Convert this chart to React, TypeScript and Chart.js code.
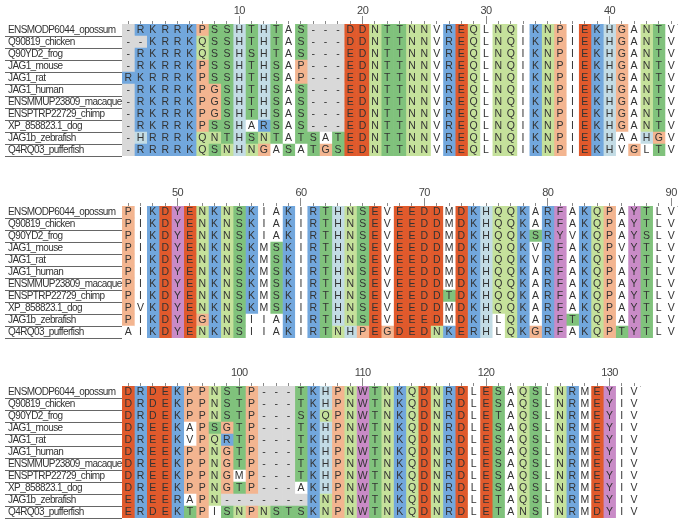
import React, { useEffect, useRef } from 'react';
import { Chart, registerables } from 'chart.js';

Chart.register(...registerables);

// ---------------- data ----------------
const SPECIES = [
  'ENSMODP6044_opossum',
  'Q90819_chicken',
  'Q90YD2_frog',
  'JAG1_mouse',
  'JAG1_rat',
  'JAG1_human',
  'ENSMMUP23809_macaque',
  'ENSPTRP22729_chimp',
  'XP_858823.1_dog',
  'JAG1b_zebrafish',
  'Q4RQ03_pufferfish',
];

// alignment columns 1-45
const SEGMENT_1 = [
  '-RKRRKPSSHTHTAS---DDNTTNNVREQLNQIKNPIEKHGANTV',
  '--KRRKQSSHTHTAS---DDNTTNNVREQLNQIKNPIEKHGANTV',
  '-RKRRKQSSHSHTAS---EDNTTNNVREQLNQIKNPIEKHGANTV',
  '-RKRRKPSSHTHSAP---EDNTTNNVREQLNQIKNPIEKHGANTV',
  'RKRRRKPSSHTHSAP---EDNTTNNVREQLNQIKNPIEKHGANTV',
  '-RKRRKPGSHTHSAS---EDNTTNNVREQLNQIKNPIEKHGANTV',
  '-RKRRKPGSHTHSAS---EDNTTNNVREQLNQIKNPIEKHGANTV',
  '-RKRRKPGSHTHSAS---EDNTTNNVREQLNQIKNPIEKHGANTV',
  '-RKRRKPSSHARSAS---EDNTTNNVREQLNQIKNPIEKHGANTV',
  '-HRRRKQNTHSNTATSATEDNTTNNVREQLNQIKNPIEKHAAHGV',
  '-RRRRKQSNHNGASATGSEDNTTNNVREQLNQIKNPIEKHVGLTV',
];

// alignment columns 46-90
const SEGMENT_2 = [
  'PIKDYENKNSKIAKIRTHNSEVEEDDMDKHQQKARFAKQPAYTLV',
  'PIKDYENKNSKIAKIRTHNSEVEEDDMDKHQQKARFAKQPAYTLV',
  'PIKDYENKNSKIAKIRTHNSEVEEDDMDKHQQKSRYVKQPAYSLV',
  'PIKDYENKNSKMSKIRTHNSEVEEDDMDKHQQKVRFAKQPVYTLV',
  'PIKDYENKNSKMSKIRTHNSEVEEDDMDKHQQKVRFAKQPVYTLV',
  'PIKDYENKNSKMSKIRTHNSEVEEDDMDKHQQKARFAKQPAYTLV',
  'PIKDYENKNSKMSKIRTHNSEVEEDDMDKHQQKARFAKQPAYTLV',
  'PIKDYENKNSKMSKIRTHNSEVEEDDTDKHQQKARFAKQPAYTLV',
  'PVKDYENKNSKMSKIRTHNSEVEEDDMDKHQQKARFAKQPAYTLV',
  'PIKDYEGKNSIIAKIRTHNSEVEEEDMDKHLQKARFTKQPAYTLV',
  'AIKDYENKNSIIAKIRTNHPEGDEDNKERHLQKGRFAKQPTYTLV',
];

// alignment columns 91-132
const SEGMENT_3 = [
  'DRDEKPPNSTP---TKHPNWTNKQDNRDLESAQSLNRMEYIV',
  'DRDEKPPNSTP---TKHPNWTNKQDNRDLESAQSLNRMEYIV',
  'DRDEKPPNSTP---SKQPNWTNKQDNRDLETAQSLNRMEYIV',
  'DREEKAPSGTP---TKHPNWTNKQDNRDLESAQSLNRMEYIV',
  'DREEKVPQRTP---TKHPNWTNKQDNRDLESAQSLNRMEYIV',
  'DREEKPPNGTP---TKHPNWTNKQDNRDLESAQSLNRMEYIV',
  'DREEKPPNGTP---TKHPNWTNKQDNRDLESAQSLNRMEYIV',
  'DREEKPPNGMP---TKHPNWTNKQDNRDLESAQSLNRMEYIV',
  'DREEKPPNGTP---AKHPNWTNKQDNRDLESAQSLNRMEYIV',
  'EREERAPN-------KNPNWTNKQDNRDLETAQSLNRMEYIV',
  'ERDEKTPISNPNSTSKNPNWTNKQDNRDLETANSINRMDYIV',
];

const SEGMENTS = [SEGMENT_1, SEGMENT_2, SEGMENT_3];
const SEGMENT_FIRST_COLUMN = [1, 46, 91];
const RULER_LABEL_STEP = 10;

// ---------------- styles ----------------
const RESIDUE_CLASS: Record<string, string> = {
  K: 'basic', R: 'basic',
  D: 'acidic', E: 'acidic',
  S: 'hydroxyl', T: 'hydroxyl',
  N: 'amide', Q: 'amide',
  P: 'special', G: 'special',
  H: 'histidine',
  Y: 'aromatic', F: 'aromatic', W: 'aromatic',
  '-': 'gap',
};
const CLASS_COLOR: Record<string, string> = {
  basic: '#72a7dd',
  acidic: '#e05a2c',
  hydroxyl: '#80c27c',
  amide: '#c5e19b',
  special: '#f3b590',
  histidine: '#c3dce5',
  aromatic: '#c98bc7',
  gap: '#d9d9d9',
};
const colorFor = (r: string) => CLASS_COLOR[RESIDUE_CLASS[r]] || '#ffffff';

const CANVAS_W = 685;
const CANVAS_H = 162;
const PLOT_LEFT = 122;
const LABEL_LEFT = 8;
const CELL_W = 12.34;
const ROW_H = 12.3;
const AXIS_H = 24;
const BLOCK_TOPS = [0, 182, 362];
const SANS = '"Liberation Sans", Arial, sans-serif';

// condensed look of the original figure's text
const condensePlugin = {
  id: 'condenseText',
  beforeDraw(chart: any) {
    chart.ctx.letterSpacing = '-0.6px';
  },
  beforeDatasetsDraw(chart: any) {
    chart.ctx.letterSpacing = '0px';
  },
};

const lettersPlugin = {
  id: 'residueLetters',
  afterDatasetsDraw(chart: any) {
    const ctx = chart.ctx;
    ctx.save();
    ctx.letterSpacing = '0px';
    ctx.font = `10.5px ${SANS}`;
    ctx.textAlign = 'center';
    ctx.textBaseline = 'middle';
    ctx.fillStyle = '#333333';
    chart.data.datasets.forEach((ds: any, j: number) => {
      const meta = chart.getDatasetMeta(j);
      meta.data.forEach((el: any, i: number) => {
        const p = el.getProps(['x', 'base', 'y'], true);
        ctx.fillText(ds.residues[i], (p.x + p.base) / 2, p.y + 0.5);
      });
    });
    ctx.restore();
  },
};

function makeConfig(seg: string[], first: number): any {
  const n = seg[0].length;
  const cols = Array.from({ length: n }, (_, k) => first + k);
  const datasets = cols.map((c, k) => ({
    data: SPECIES.map(() => [c - 0.5, c + 0.5]),
    residues: seg.map((s) => s[k]),
    backgroundColor: seg.map((s) => colorFor(s[k])),
    borderWidth: 0,
    grouped: false,
    barPercentage: 1,
    categoryPercentage: 1,
  }));
  const padRight = CANVAS_W - PLOT_LEFT - n * CELL_W;
  const padBottom = CANVAS_H - AXIS_H - SPECIES.length * ROW_H;
  return {
    type: 'bar',
    data: { labels: SPECIES, datasets },
    plugins: [condensePlugin, lettersPlugin],
    options: {
      indexAxis: 'y',
      animation: false,
      responsive: false,
      maintainAspectRatio: false,
      devicePixelRatio: 1,
      events: [],
      layout: { padding: { left: LABEL_LEFT, right: padRight, top: 0, bottom: padBottom } },
      plugins: { legend: { display: false }, tooltip: { enabled: false }, title: { display: false } },
      scales: {
        x: {
          type: 'linear',
          position: 'top',
          min: first - 0.5,
          max: first + n - 0.5,
          afterBuildTicks: (s: any) => {
            s.ticks = cols.map((v) => ({ value: v }));
          },
          afterFit: (s: any) => {
            s.height = AXIS_H;
          },
          ticks: {
            autoSkip: false,
            maxRotation: 0,
            padding: -2,
            color: '#444444',
            font: { family: SANS, size: 11 },
            callback: (v: number) => (v % RULER_LABEL_STEP === 0 ? String(v) : ''),
          },
          grid: {
            drawOnChartArea: false,
            drawTicks: true,
            tickLength: 8,
            tickWidth: 1,
            tickColor: '#8a8a8a',
            tickBorderDash: (ctx: any) =>
              ctx.tick && ctx.tick.value % RULER_LABEL_STEP === 0 ? [] : [3, 5],
            tickBorderDashOffset: (ctx: any) =>
              ctx.tick && ctx.tick.value % RULER_LABEL_STEP === 0 ? 0 : 3,
          },
          border: { display: true, color: '#a8a8a8', width: 1 },
        },
        y: {
          type: 'category',
          position: 'left',
          offset: true,
          afterFit: (s: any) => {
            s.width = PLOT_LEFT - LABEL_LEFT;
          },
          ticks: {
            crossAlign: 'far',
            autoSkip: false,
            padding: 0,
            color: '#333333',
            font: { family: SANS, size: 10 },
          },
          grid: {
            offset: true,
            drawOnChartArea: false,
            drawTicks: true,
            tickLength: PLOT_LEFT - 5,
            tickWidth: 1,
            tickColor: (ctx: any) => (ctx.index === 0 ? 'rgba(0,0,0,0)' : '#666666'),
          },
          border: { display: false },
        },
      },
    },
  };
}

function Block({ index }: { index: number }) {
  const ref = useRef<HTMLCanvasElement | null>(null);
  useEffect(() => {
    if (!ref.current) return;
    const chart = new Chart(ref.current, makeConfig(SEGMENTS[index], SEGMENT_FIRST_COLUMN[index]));
    return () => chart.destroy();
  }, [index]);
  return (
    <canvas
      ref={ref}
      width={CANVAS_W}
      height={CANVAS_H}
      style={{ position: 'absolute', left: 0, top: BLOCK_TOPS[index], width: CANVAS_W, height: CANVAS_H, display: 'block' }}
    />
  );
}

export default function App() {
  return (
    <div style={{ position: 'absolute', left: 0, top: 0, width: CANVAS_W, height: 528, background: '#ffffff' }}>
      {SEGMENTS.map((_, i) => (
        <Block key={i} index={i} />
      ))}
    </div>
  );
}
